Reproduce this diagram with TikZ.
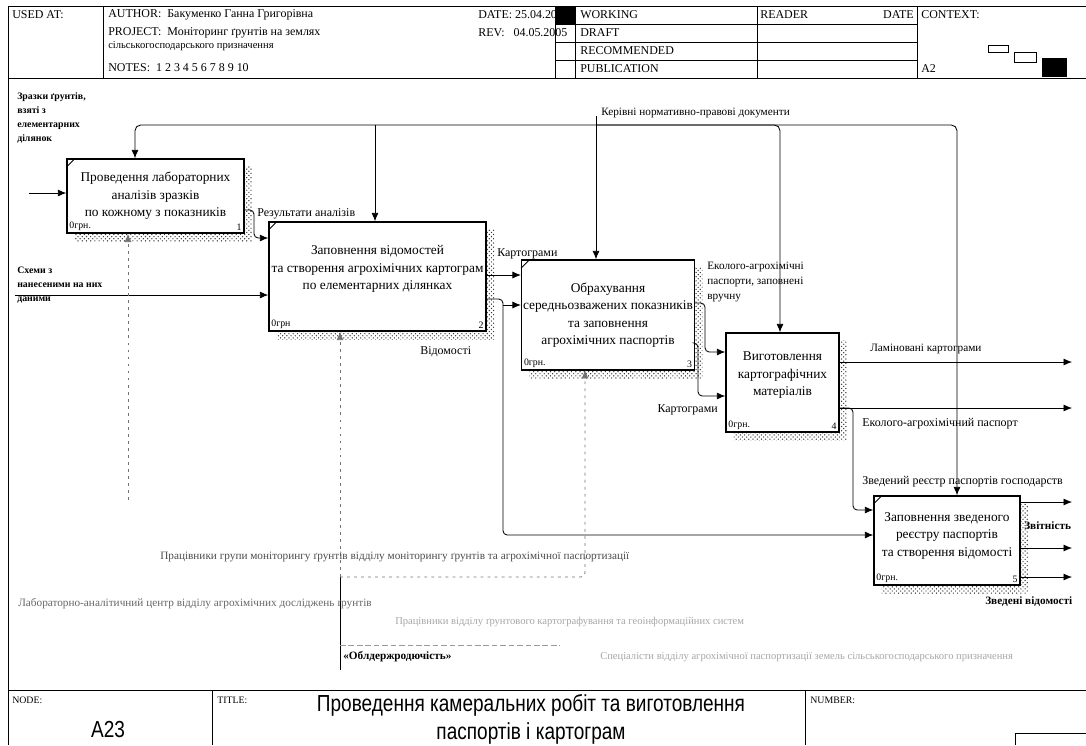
\documentclass[tikz,border=0pt]{standalone}
\usepackage{fontspec}
\setmainfont{Liberation Serif}
\newfontfamily\titlefont[FakeStretch=0.82]{Liberation Sans}
\usetikzlibrary{arrows.meta,patterns}

\tikzset{
  act/.style={draw, fill=white, line width=1pt, align=center, inner sep=1pt,
    font=\fontsize{9.5}{12.5}\selectfont,
    preaction={pattern=crosshatch dots, pattern color=black!80,
      transform canvas={xshift=0.2cm, yshift=-0.2cm}}},
  wire/.style={line width=0.6pt, -{Latex[length=6pt,width=5pt]}},
  mech/.style={wire, black!55, dash pattern=on 2pt off 3pt},
  lbl/.style={font=\fontsize{8.5}{10.5}\selectfont, inner sep=0pt, align=left},
  bold lbl/.style={lbl, font=\bfseries\fontsize{7}{10}\selectfont},
  hdr/.style={font=\fontsize{8.5}{9}\selectfont, inner sep=0pt, anchor=west},
  cost/.style={font=\fontsize{7}{8}\selectfont, inner sep=2pt},
  faint/.style={lbl, black!35, font=\fontsize{7.5}{8}\selectfont}
}

\begin{document}
\begin{tikzpicture}[x=0.025cm, y=-0.025cm]
\useasboundingbox (0,0) rectangle (1086,745);

% frame, header and footer
\draw[line width=0.6pt] (8,6) -- (8,745);
\draw[line width=0.6pt] (8,6) -- (1086,6);
\draw[line width=0.6pt] (8,78) -- (1086,78);
\draw[line width=0.6pt] (103,6) -- (103,78);
\draw[line width=0.6pt] (555,6) -- (555,78);
\draw[line width=0.6pt] (575,6) -- (575,78);
\draw[line width=0.6pt] (757,6) -- (757,78);
\draw[line width=0.6pt] (917,6) -- (917,78);
\foreach \yy in {24,42,60}
  \draw[line width=0.6pt] (555,\yy) -- (917,\yy);
\node[hdr] (used) at (12,15) {USED AT:};
\node[hdr] (auth) at (108,15) {AUTHOR:\ \ Бакуменко Ганна Григорівна};
\node[hdr] (proj) at (108,33) {PROJECT:\ \ Моніторинг ґрунтів на землях};
\node[hdr, font=\fontsize{7.5}{8}\selectfont] (proj2) at (108,46) {сільськогосподарського призначення};
\node[hdr] (notes) at (108,68) {NOTES:\ \ 1\ 2\ 3\ 4\ 5\ 6\ 7\ 8\ 9\ 10};
\node[hdr] (date) at (478,15) {DATE:\ 25.04.2005};
\node[hdr] (rev) at (478,33) {REV:\ \ \ 04.05.2005};
\fill (555,7) rectangle (575,24);
\node[hdr] (wrk) at (580,15) {WORKING};
\node[hdr] (drf) at (580,33) {DRAFT};
\node[hdr] (rec) at (580,51) {RECOMMENDED};
\node[hdr] (pub) at (580,69) {PUBLICATION};
\node[hdr] (rdr) at (760,15) {READER};
\node[hdr, anchor=east] (rdate) at (914,15) {DATE};
\node[hdr] (ctx) at (921,15) {CONTEXT:};
\node[hdr] (ctxa) at (921,69) {A2};
\draw[line width=0.6pt] (988,45) rectangle (1008,52);
\draw[line width=0.6pt] (1014,52) rectangle (1036,62);
\fill (1042,58) rectangle (1067,77);

\draw[line width=0.6pt] (8,690) -- (1086,690);
\draw[line width=0.6pt] (212,690) -- (212,745);
\draw[line width=0.6pt] (805,690) -- (805,745);
\draw[line width=0.6pt] (1015,745) -- (1015,733) -- (1086,733);
\node[hdr, font=\fontsize{7}{8}\selectfont] (nodel) at (12,700) {NODE:};
\node[hdr, font=\fontsize{7}{8}\selectfont] (titl) at (217,700) {TITLE:};
\node[hdr, font=\fontsize{7}{8}\selectfont] (numl) at (810,700) {NUMBER:};
\node[font=\titlefont\fontsize{16.5}{20}\selectfont, inner sep=0pt] (nodeid) at (108,730) {A23};
\node[font=\titlefont\fontsize{16.5}{20}\selectfont, inner sep=0pt, align=center] (title) at (531,719)
  {Проведення камеральних робіт та виготовлення\\ паспортів і картограм};

% activities
\node[act, minimum width=4.425cm, minimum height=1.85cm] (A1) at (155.5,196)
  {Проведення лабораторних\\ аналізів зразків\\ по кожному з показників};
\node[act, minimum width=5.425cm, minimum height=2.725cm] (A2) at (377.5,276.5)
  {Заповнення відомостей\\ та створення агрохімічних картограм\\ по елементарних ділянках\\ \mbox{}};
\node[act, minimum width=4.3cm, minimum height=2.75cm] (A3) at (608,315)
  {Обрахування\\ середньозважених показників\\ та заповнення\\ агрохімічних паспортів};
\node[act, minimum width=2.825cm, minimum height=2.475cm] (A4) at (782.5,382.5)
  {Виготовлення\\ картографічних\\ матеріалів\\ \mbox{}};
\node[act, minimum width=3.65cm, minimum height=2.225cm] (A5) at (947,540.5)
  {Заповнення зведеного\\ реєстру паспортів\\ та створення відомості\\[-4pt] \mbox{}};

\foreach \b/\n/\c in {A1/1/0грн., A2/2/0грн, A3/3/0грн., A4/4/0грн., A5/5/0грн.}{
  \node[cost, anchor=south west] (\b c) at (\b.south west) {\c};
  \node[cost, anchor=south east] (\b n) at (\b.south east) {\n};
}
\foreach \b in {A1,A2,A3,A5}
  \draw[line width=0.6pt] (\b.north west) ++(0,9) -- ++(9,-9);

% inputs
\node[bold lbl, anchor=north west] (zr) at (17,92)
  {Зразки ґрунтів,\\ взяті з\\ елементарних\\ ділянок};
\coordinate (s1) at (29,193);
\draw[wire] (s1) -- (s1 -| A1.west);
\node[bold lbl, anchor=north west] (sh) at (17,267)
  {Схеми з\\ нанесеними на них\\ даними};
\coordinate (s2) at (15,295);
\draw[wire] (s2) -- (s2 -| A2.west);

% controls
\coordinate (ctl) at (596,116);
\node[lbl, anchor=west, font=\fontsize{8}{9}\selectfont] (ker) at (601,113) {Керівні нормативно-правові документи};
\coordinate (k1) at (135,125);
\coordinate (k2) at (375,125);
\coordinate (k3) at (596,125);
\coordinate (k4) at (780,125);
\coordinate (k5) at (957,125);
\draw[wire] (ctl) -- (ctl |- A3.north);
\draw[wire, rounded corners=4pt] (k3) -| (k1 |- A1.north);
\draw[wire] (k2) -- (k2 |- A2.north);
\draw[wire, rounded corners=4pt] (k3) -| (k4 |- A4.north);
\draw[wire, rounded corners=4pt] (k3) -| (k5 |- A5.north);

% flows between activities
\draw[wire, rounded corners=3pt] (A1.east |- 0,210) -| (254,238) -- (A2.west |- 0,238);
\node[lbl, anchor=west] (res) at (257,214) {Результати аналізів};
\draw[wire] (A2.east |- 0,275) -- (A3.west |- 0,275);
\node[lbl, anchor=west] (kart1) at (497,254) {Картограми};
\coordinate (v1) at (503,305);
\draw[wire, rounded corners=3pt] (A2.east |- 0,299) -| (503,535) -- (A5.west |- 0,535);
\draw[wire] (v1) -- (v1 -| A3.west);
\node[lbl, anchor=west] (vid) at (420,352) {Відомості};
\draw[wire, rounded corners=3pt] (A3.east |- 0,303) -| (705,352) -- (A4.west |- 0,352);
\node[lbl, anchor=north west, font=\fontsize{8}{10.5}\selectfont] (eko) at (707,262) {Еколого-агрохімічні\\ паспорти, заповнені\\ вручну};
\draw[wire, rounded corners=3pt] (A3.east |- 0,343) -| (698,396) -- (A4.west |- 0,396);
\node[lbl, anchor=east] (kart2) at (718,410) {Картограми};

% outputs
\coordinate (o41) at (1072,362);
\coordinate (o42) at (1072,408);
\draw[wire] (A4.east |- o41) -- (o41);
\node[lbl, anchor=west, font=\fontsize{8}{9}\selectfont] (lam) at (870,349) {Ламіновані картограми};
\draw[wire] (A4.east |- o42) -- (o42);
\node[lbl, anchor=west] (pas) at (862,424) {Еколого-агрохімічний паспорт};
\draw[wire, rounded corners=3pt] (A4.east |- o42) -| (853,510) -- (A5.west |- 0,510);
\coordinate (o51) at (1072,502);
\coordinate (o52) at (1072,548);
\coordinate (o53) at (1072,577);
\draw[wire] (A5.east |- o51) -- (o51);
\draw[wire] (A5.east |- o52) -- (o52);
\draw[wire] (A5.east |- o53) -- (o53);
\node[lbl, anchor=west] (zr1) at (862,482) {Зведений реєстр паспортів господарств};
\node[lbl, anchor=west, font=\bfseries\fontsize{8}{10.5}\selectfont] (zvit) at (1024,526) {Звітність};
\node[lbl, anchor=west, font=\bfseries\fontsize{8}{10.5}\selectfont] (zvid) at (985,602) {Зведені відомості};

% mechanisms
\coordinate (m1) at (128,500);
\draw[mech] (m1) -- (m1 |- A1.south);
\coordinate (m2) at (340,670);
\coordinate (j2) at (340,577);
\draw[line width=0.6pt] (m2) -- (j2);
\draw[mech] (j2) -- (j2 |- A2.south);
\draw[mech, rounded corners=3pt] (j2) -| (585,370);
\draw[line width=0.4pt, black!40, dash pattern=on 4pt off 2pt] (340,645) -- (560,645);
\node[lbl, anchor=west, black!70, font=\fontsize{8}{9}\selectfont] (prac) at (160,557)
  {Працівники групи моніторингу ґрунтів відділу моніторингу ґрунтів та агрохімічної паспортизації};
\node[lbl, anchor=west, black!60, font=\fontsize{8}{9}\selectfont] (lab) at (18,604)
  {Лабораторно-аналітичний центр відділу агрохімічних досліджень ґрунтів};
\node[faint, anchor=west] (f1) at (395,622)
  {Працівники відділу ґрунтового картографування та геоінформаційних систем};
\node[faint, anchor=west] (f2) at (600,657)
  {Спеціалісти відділу агрохімічної паспортизації земель сільськогосподарського призначення};
\node[lbl, anchor=west, font=\bfseries\fontsize{8}{10.5}\selectfont] (obl) at (343,657) {«Облдержродючість»};

\end{tikzpicture}
\end{document}
